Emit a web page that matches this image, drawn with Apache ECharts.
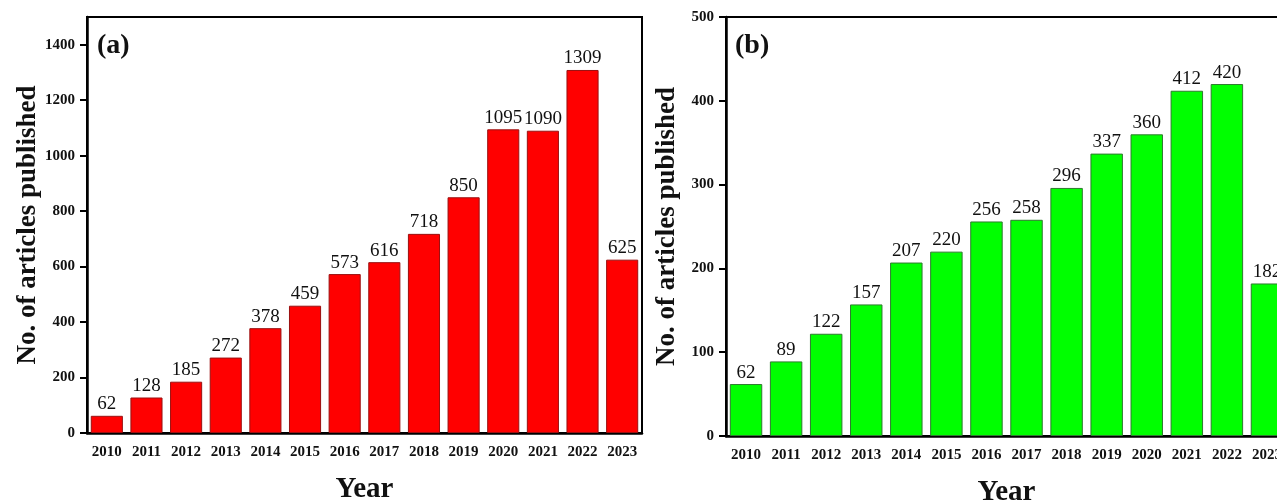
<!DOCTYPE html>
<html>
<head>
<meta charset="utf-8">
<script src="https://cdn.jsdelivr.net/npm/echarts@6/dist/echarts.min.js"></script>
<style>
  html, body { margin: 0; padding: 0; background: #fff; overflow: hidden; }
  #chart { width: 1277px; height: 502px; }
</style>
</head>
<body>
<div id="chart"></div>
<script>
// Publication years shared by both panels
const years = ['2010', '2011', '2012', '2013', '2014', '2015', '2016', '2017', '2018', '2019', '2020', '2021', '2022', '2023'];
// Panel (a): articles published per year
const articlesA = [62, 128, 185, 272, 378, 459, 573, 616, 718, 850, 1095, 1090, 1309, 625];
// Panel (b): articles published per year
const articlesB = [62, 89, 122, 157, 207, 220, 256, 258, 296, 337, 360, 412, 420, 182];
// Tick values on the vertical axes
const ticksA = [0, 200, 400, 600, 800, 1000, 1200, 1400];
const ticksB = [0, 100, 200, 300, 400, 500];

const serif = "'Liberation Serif', 'Times New Roman', serif";

function xAxisFor(gridIndex) {
  return {
    type: 'category',
    gridIndex: gridIndex,
    data: years,
    name: 'Year',
    nameLocation: 'middle',
    nameGap: 42,
    nameTextStyle: { fontFamily: serif, fontWeight: 'bold', fontSize: 29, color: '#111' },
    axisLine: { lineStyle: { color: '#000', width: 2.5 } },
    axisTick: { alignWithLabel: true, length: 6, lineStyle: { color: '#000', width: 2 } },
    axisLabel: { margin: 12, fontFamily: serif, fontWeight: 'bold', fontSize: 15, color: '#111' }
  };
}

function yAxisFor(gridIndex, max, interval, ticks) {
  return {
    type: 'value',
    gridIndex: gridIndex,
    min: 0,
    max: max,
    interval: interval,
    name: 'No. of articles published',
    nameLocation: 'middle',
    nameGap: 45,
    nameTextStyle: { fontFamily: serif, fontWeight: 'bold', fontSize: 27, color: '#111' },
    axisLine: { show: true, lineStyle: { color: '#000', width: 2.5 } },
    axisTick: { show: true, length: 7, customValues: ticks, lineStyle: { color: '#000', width: 2 } },
    axisLabel: {
      margin: 12,
      customValues: ticks,
      formatter: function (v) { return String(v); },
      fontFamily: serif, fontWeight: 'bold', fontSize: 15, color: '#111'
    },
    splitLine: { show: false }
  };
}

function barSeries(index, values, fill, edge) {
  return {
    type: 'bar',
    xAxisIndex: index,
    yAxisIndex: index,
    data: values,
    barWidth: '81%',
    itemStyle: { color: fill, borderColor: edge, borderWidth: 1 },
    label: {
      show: true,
      position: 'top',
      distance: 2,
      fontFamily: serif,
      fontSize: 19,
      color: '#111'
    }
  };
}

const gridBase = { show: true, borderColor: '#000', borderWidth: 2, containLabel: false, outerBoundsMode: 'none' };

const chart = echarts.init(document.getElementById('chart'), null, { renderer: 'canvas' });

chart.setOption({
  backgroundColor: '#fff',
  animation: false,
  grid: [
    Object.assign({ left: 87, top: 17, width: 555, height: 416 }, gridBase),
    Object.assign({ left: 726, top: 17, width: 561, height: 419 }, gridBase)
  ],
  xAxis: [xAxisFor(0), xAxisFor(1)],
  yAxis: [yAxisFor(0, 1500, 100, ticksA), yAxisFor(1, 500, 100, ticksB)],
  graphic: [
    { type: 'text', left: 97, top: 32, style: { text: '(a)', font: 'bold 28px ' + serif, fill: '#111' } },
    { type: 'text', left: 735, top: 32, style: { text: '(b)', font: 'bold 28px ' + serif, fill: '#111' } }
  ],
  series: [
    barSeries(0, articlesA, '#ff0000', '#9a1010'),
    barSeries(1, articlesB, '#00ff00', '#2f7a2f')
  ]
});
</script>
</body>
</html>
